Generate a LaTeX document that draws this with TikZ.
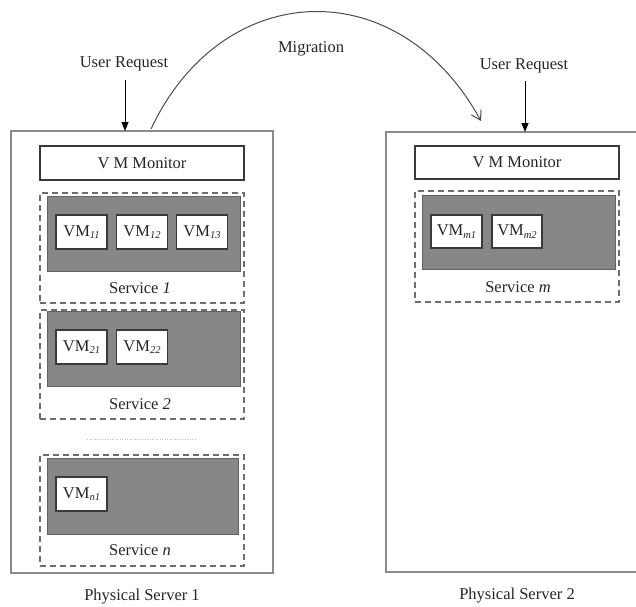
\documentclass[tikz,border=0pt]{standalone}
\usepackage{fontspec}
\setmainfont{Liberation Serif}
\usetikzlibrary{arrows.meta}
\definecolor{srvgray}{HTML}{8A8A8A}
\definecolor{boxline}{HTML}{3A3A3A}
\definecolor{dashgray}{HTML}{6E6E6E}
\definecolor{fillgray}{HTML}{878787}
\definecolor{txt}{HTML}{262626}
\newcommand{\vmname}[1]{VM\raisebox{-0.3ex}{\fontsize{10.5}{12}\selectfont\itshape #1}}
\begin{document}
\begin{tikzpicture}[x=1pt,y=-1pt,
  every node/.style={inner sep=0pt,outer sep=0pt,text=txt,font=\fontsize{16.5}{20}\selectfont},
  serverbox/.style={draw=srvgray,line width=1.3pt,minimum width=#1},
  monbox/.style={draw=boxline,line width=1.1pt,fill=white,minimum width=204pt,minimum height=34pt},
  svcbox/.style={draw=dashgray,line width=1.3pt,dash pattern=on 6pt off 4pt,minimum width=204pt},
  graybox/.style={draw=boxline!80,line width=0.8pt,fill=fillgray},
  vmbox/.style={draw=boxline,line width=1.1pt,fill=white,minimum width=51pt,minimum height=34pt},
  reqarrow/.style={draw=black,line width=1pt,-{Triangle[length=9pt,width=7pt]}},
  migarrow/.style={draw=black!70,line width=1pt,-{Straight Barb[length=9pt,width=11pt,line width=1pt]}}
]
\useasboundingbox (0,0) rectangle (636,606);
\fill[white] (0,0) rectangle (636,606);

% servers
\node[serverbox=262pt,minimum height=442pt] (srv1) at (142,352) {};
\node[serverbox=262pt,minimum height=440pt] (srv2) at (517,352) {};

% monitors
\node[monbox] (mon1) at (142,163) {V M Monitor};
\node[monbox,minimum height=33pt] (mon2) at (517,162.5) {V M Monitor};

% service 1
\node[svcbox,minimum height=110pt] (svc1) at (142,248) {};
\node[graybox,minimum width=193pt,minimum height=75pt] (gray1) at (143.5,233.5) {};
\node[vmbox] (vm11) at (81.5,232) {\vmname{11}};
\node[vmbox] (vm12) at (142,232) {\vmname{12}};
\node[vmbox] (vm13) at (202,232) {\vmname{13}};
\node (lsvc1) at (140,288) {Service \textit{1}};

% service 2
\node[svcbox,minimum height=109pt] (svc2) at (142,364.5) {};
\node[graybox,minimum width=193pt,minimum height=75pt] (gray2) at (143.5,348.5) {};
\node[vmbox] (vm21) at (81.5,347) {\vmname{21}};
\node[vmbox] (vm22) at (142,347) {\vmname{22}};
\node (lsvc2) at (140,404) {Service \textit{2}};

% dots separator
\coordinate (dotsL) at (87,439);
\coordinate (dotsR) at (197,439);
\draw[black!25,line width=0.6pt,dash pattern=on 1pt off 1.5pt] (dotsL) -- (dotsR);

% service n
\node[svcbox,minimum height=111pt] (svcn) at (142,510.5) {};
\node[graybox,minimum width=191pt,minimum height=76pt] (grayn) at (142.5,496) {};
\node[vmbox] (vmn1) at (81.5,494) {\vmname{n1}};
\node (lsvcn) at (140,550) {Service \textit{n}};

% service m
\node[svcbox,minimum height=111pt] (svcm) at (517,246.5) {};
\node[graybox,minimum width=193pt,minimum height=74pt] (graym) at (518.5,232) {};
\node[vmbox,minimum height=33pt] (vmm1) at (456.5,231.5) {\vmname{m1}};
\node[vmbox,minimum height=33pt,minimum width=50pt] (vmm2) at (517,231.5) {\vmname{m2}};
\node (lsvcm) at (518,287) {Service \textit{m}};

% captions
\node (cap1) at (142,597) {Physical Server 1};
\node (cap2) at (517,596) {Physical Server 2};

% user requests
\node (ur1) at (124,64) {User Request};
\node (ur2) at (524,66) {User Request};
\draw[reqarrow] ([yshift=-9pt]ur1.south -| 125,0) -- (125,0 |- srv1.north);
\draw[reqarrow] ([yshift=-8pt]ur2.south -| 525,0) -- (525,0 |- srv2.north);

% migration
\coordinate (migS) at (151,129);
\coordinate (migE) at (481,121);
\draw[migarrow] (migS) .. controls (222,-22) and (398,-30) .. (migE);
\node (mig) at (311,49) {Migration};
\end{tikzpicture}
\end{document}
